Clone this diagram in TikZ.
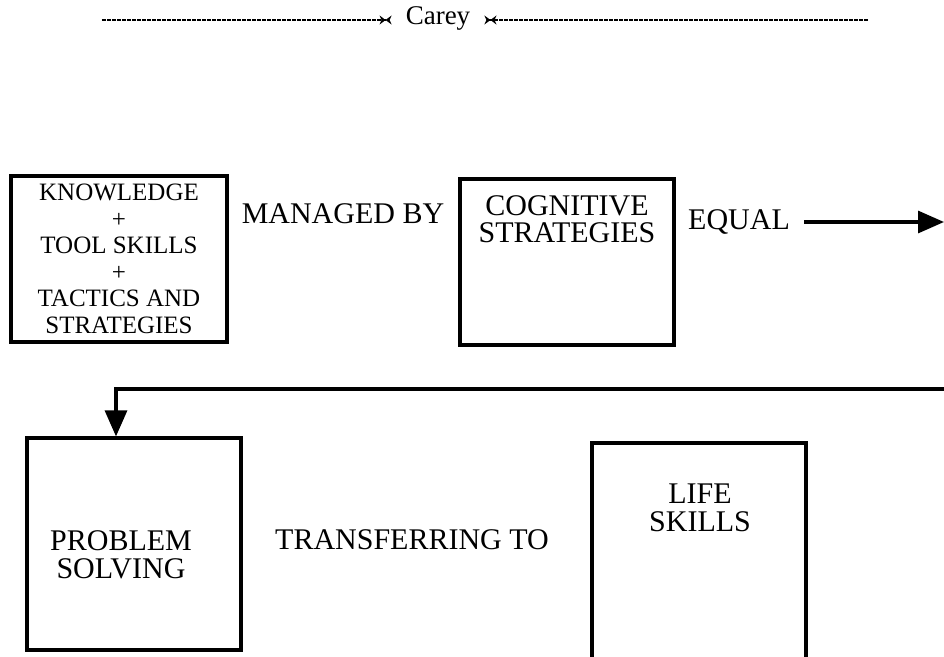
\documentclass[tikz,border=0pt]{standalone}
\usepackage{fontspec}
\setmainfont{Liberation Serif}
\usetikzlibrary{arrows.meta}
\tikzset{
  frame/.style={draw, line width=3.2pt, inner sep=0pt},
  word/.style={inner sep=0pt, align=center, font=\fontsize{30}{28}\selectfont},
  small/.style={inner sep=0pt, align=center, font=\fontsize{25}{26.5}\selectfont},
  arr/.style={line width=3.2pt, -{Triangle[length=26pt,width=22pt]}},
  thin dash/.style={line width=1.3pt, dash pattern=on 3.5pt off 1.5pt},
  tieL/.style={-{Stealth[length=6pt,width=9pt]Stealth[length=6pt,width=9pt,reversed]}},
  tieR/.style={{Stealth[length=6pt,width=9pt,reversed]Stealth[length=6pt,width=9pt]}-}
}
\begin{document}
\begin{tikzpicture}[x=1pt,y=-1pt]
  \useasboundingbox (0,0) rectangle (944,656);
  \clip (0,0) rectangle (944,656);

  % title rule with name
  \node[word, font=\fontsize{27}{27}\selectfont] (carey) at (438,18) {Carey};
  \coordinate (ruleL) at (102,20);
  \coordinate (ruleR) at (868,20);
  \draw[thin dash, tieL] (ruleL) -- ([xshift=-14pt]carey.west |- ruleL);
  \draw[thin dash, tieR] ([xshift=14pt]carey.east |- ruleR) -- (ruleR);

  % first row
  \node[frame, minimum width=216pt, minimum height=166pt] (b1) at (119,259) {};
  \node[small] (t1) at (b1.center) {KNOWLEDGE\\+\\TOOL SKILLS\\+\\TACTICS AND\\STRATEGIES};
  \node[word] (mgd) at (343,214) {MANAGED BY};
  \node[frame, minimum width=214pt, minimum height=166pt] (b2) at (567,262) {};
  \node[word, font=\fontsize{30}{27}\selectfont] (t2) at (567,219) {COGNITIVE\\STRATEGIES};
  \node[word, anchor=west] (eq) at (688,222) {EQUAL};
  \coordinate (eqend) at (944,222);
  \draw[arr] ([xshift=14pt]eq.east) -- (eqend);

  % return path to the second row
  \coordinate (back) at (946,389);
  \coordinate (turn) at (116,389);

  % second row
  \node[frame, minimum width=214pt, minimum height=212pt] (b3) at (134,544) {};
  \node[word] (t3) at (121,555) {PROBLEM\\SOLVING};
  \node[word] (tr) at (412,540) {TRANSFERRING TO};
  \node[frame, minimum width=214pt, minimum height=260pt] (b4) at (699,573) {};
  \node[word] (t4) at (700,508) {LIFE\\SKILLS};

  \draw[arr] (back) -- (turn) -- (turn |- b3.north);
\end{tikzpicture}
\end{document}
